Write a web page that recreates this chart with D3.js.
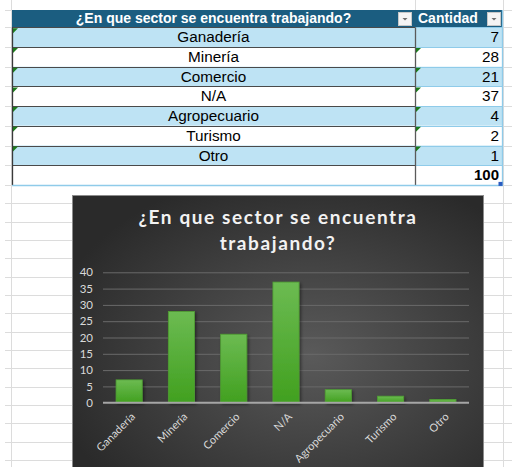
<!DOCTYPE html>
<html><head><meta charset="utf-8">
<script src="https://cdn.jsdelivr.net/npm/d3@7"></script>
<style>body{margin:0;background:#fff;overflow:hidden} svg{display:block}</style>
</head><body>
<svg id="c" width="512" height="467"></svg>
<script>
const categories = ["Ganadería", "Minería", "Comercio", "N/A", "Agropecuario", "Turismo", "Otro"];
const values = [7, 28, 21, 37, 4, 2, 1];
const total = 100;
const headerLabels = ["¿En que sector se encuentra trabajando?", "Cantidad"];
const chartTitle = ["¿En que sector se encuentra", "trabajando?"];
const yTicks = [0, 5, 10, 15, 20, 25, 30, 35, 40];
const errorFlagsCol2 = [false, true, true, true, true, true, true];

const svg = d3.select("#c");
const defs = svg.append("defs");

// ---------- spreadsheet background grid ----------
const gridC = "#dcdcdc";
const tbl = {x0: 12, x1: 415, x2: 502, top: 10, head: 17.3, rowH: 19.7};
const rowY = d3.scaleLinear().domain([0, 1]).range([tbl.top + tbl.head, tbl.top + tbl.head + tbl.rowH]);
const tableBottom = rowY(categories.length + 1);
const sheetRows = d3.range(0, 16).map(k => tableBottom + k * 18.33);
const topRows = [tbl.top].concat(d3.range(0, categories.length + 2).map(i => rowY(i)));
const g0 = svg.append("g");
g0.selectAll("line.sr").data(sheetRows).join("line")
  .attr("x1", 5).attr("x2", 512).attr("y1", d => Math.round(d) + 0.5).attr("y2", d => Math.round(d) + 0.5)
  .attr("stroke", gridC);
g0.selectAll("line.tr").data(topRows).join("line")
  .attr("x1", 5).attr("x2", 12).attr("y1", d => Math.round(d) + 0.5).attr("y2", d => Math.round(d) + 0.5)
  .attr("stroke", gridC);
g0.selectAll("line.tr2").data(topRows).join("line")
  .attr("x1", 503).attr("x2", 512).attr("y1", d => Math.round(d) + 0.5).attr("y2", d => Math.round(d) + 0.5)
  .attr("stroke", gridC);
g0.append("line").attr("x1", 11.5).attr("x2", 11.5).attr("y1", 0).attr("y2", 467).attr("stroke", gridC);
g0.append("line").attr("x1", 503.5).attr("x2", 503.5).attr("y1", 0).attr("y2", 467).attr("stroke", gridC);
g0.append("line").attr("x1", 415.5).attr("x2", 415.5).attr("y1", 0).attr("y2", 10).attr("stroke", gridC);

// ---------- table ----------
const tg = svg.append("g").attr("font-family", "'Liberation Sans', Arial, sans-serif");
tg.append("rect").attr("x", tbl.x0).attr("y", tbl.top).attr("width", tbl.x2 - tbl.x0).attr("height", tbl.head).attr("fill", "#1b5d80");
tg.append("text").attr("x", (tbl.x0 + tbl.x1) / 2).attr("y", tbl.top + 13).attr("text-anchor", "middle")
  .attr("fill", "#fff").attr("font-weight", "bold").attr("font-size", 14).text(headerLabels[0]);
tg.append("text").attr("x", 418).attr("y", tbl.top + 13)
  .attr("fill", "#fff").attr("font-weight", "bold").attr("font-size", 14).text(headerLabels[1]);
[398, 487].forEach(bx => {
  tg.append("rect").attr("x", bx + 0.5).attr("y", 12.5).attr("width", 13).attr("height", 13).attr("fill", "#f4f4f4").attr("stroke", "#c8c8c8");
  tg.append("path").attr("d", `M${bx + 4.5},18 L${bx + 9.5},18 L${bx + 7},20.5 Z`).attr("fill", "#6d6d6d");
});

const rows = tg.selectAll("g.row").data(categories).join("g").attr("class", "row");
rows.append("rect").attr("x", tbl.x0).attr("y", (d, i) => rowY(i)).attr("width", tbl.x2 - tbl.x0).attr("height", tbl.rowH)
  .attr("fill", (d, i) => i % 2 === 0 ? "#bee3f4" : "#ffffff");
rows.append("text").attr("x", (tbl.x0 + tbl.x1) / 2).attr("y", (d, i) => rowY(i) + 15).attr("text-anchor", "middle")
  .attr("font-size", 15.3).attr("fill", "#000").text(d => d);
rows.append("text").attr("x", 499).attr("y", (d, i) => rowY(i) + 15).attr("text-anchor", "end")
  .attr("font-size", 15.3).attr("fill", "#000").text((d, i) => values[i]);

// total row
tg.append("text").attr("x", 499).attr("y", rowY(categories.length) + 15).attr("text-anchor", "end")
  .attr("font-size", 15).attr("font-weight", "bold").attr("fill", "#000").text(total);

// borders
const rowBounds = d3.range(0, categories.length + 1).map(i => rowY(i));
tg.selectAll("line.rb").data(rowBounds).join("line")
  .attr("x1", tbl.x0).attr("x2", tbl.x1).attr("y1", d => Math.round(d) + 0.5).attr("y2", d => Math.round(d) + 0.5)
  .attr("stroke", "#4a4a4a").attr("stroke-width", 1.2);
tg.selectAll("line.rb2").data(rowBounds).join("line")
  .attr("x1", tbl.x1).attr("x2", tbl.x2).attr("y1", d => Math.round(d) + 0.5).attr("y2", d => Math.round(d) + 0.5)
  .attr("stroke", "#8fcbe9").attr("stroke-width", 1.2);
tg.append("line").attr("x1", tbl.x0).attr("x2", tbl.x2 + 1).attr("y1", Math.round(tableBottom) + 0.5).attr("y2", Math.round(tableBottom) + 0.5)
  .attr("stroke", "#8fcbe9").attr("stroke-width", 1.3);
tg.append("line").attr("x1", tbl.x0 + 0.5).attr("x2", tbl.x0 + 0.5).attr("y1", rowY(0)).attr("y2", tableBottom).attr("stroke", "#3a3a3a").attr("stroke-width", 1.3);
tg.append("line").attr("x1", tbl.x1 + 0.5).attr("x2", tbl.x1 + 0.5).attr("y1", rowY(0)).attr("y2", tableBottom).attr("stroke", "#5a5a5a").attr("stroke-width", 1.3);
tg.append("line").attr("x1", tbl.x2 + 0.5).attr("x2", tbl.x2 + 0.5).attr("y1", tbl.top).attr("y2", tableBottom).attr("stroke", "#8fcbe9").attr("stroke-width", 1.3);

// error indicators
const tri = (x, y) => `M${x},${y} L${x + 5},${y} L${x},${y + 5} Z`;
categories.forEach((c, i) => {
  tg.append("path").attr("d", tri(tbl.x0 + 1, rowY(i) + 1)).attr("fill", "#1d7a1d");
  if (errorFlagsCol2[i]) tg.append("path").attr("d", tri(tbl.x1 + 1, rowY(i) + 1)).attr("fill", "#1d7a1d");
});
tg.append("rect").attr("x", 498.5).attr("y", tableBottom - 3).attr("width", 4).attr("height", 4).attr("fill", "#2a5bc0");

// ---------- chart ----------
const C = {x: 72.5, y: 195.5, w: 411, h: 290};
const bg = defs.append("radialGradient").attr("id", "bgGrad").attr("cx", "58%").attr("cy", "55%").attr("r", "65%");
bg.append("stop").attr("offset", "0%").attr("stop-color", "#5a5a5a");
bg.append("stop").attr("offset", "100%").attr("stop-color", "#2a2a2a");
const barG = defs.append("linearGradient").attr("id", "barGrad").attr("x1", 0).attr("x2", 0).attr("y1", 0).attr("y2", 1);
barG.append("stop").attr("offset", "0%").attr("stop-color", "#6cbb52");
barG.append("stop").attr("offset", "100%").attr("stop-color", "#41a01f");
const sh = defs.append("filter").attr("id", "sh").attr("x", "-20%").attr("y", "-20%").attr("width", "150%").attr("height", "150%");
sh.append("feDropShadow").attr("dx", 1.5).attr("dy", 1.5).attr("stdDeviation", 1.5).attr("flood-color", "#000").attr("flood-opacity", 0.45);

const cg = svg.append("g");
cg.append("rect").attr("x", C.x).attr("y", C.y).attr("width", C.w).attr("height", C.h)
  .attr("fill", "url(#bgGrad)").attr("stroke", "#8c8c8c").attr("stroke-width", 1);

const ft = "Lato, 'Open Sans', sans-serif";
cg.selectAll("text.title").data(chartTitle).join("text").attr("class", "title")
  .attr("x", C.x + C.w / 2).attr("y", (d, i) => 224 + i * 26).attr("text-anchor", "middle")
  .attr("font-family", ft).attr("font-weight", "bold").attr("font-size", 19).attr("letter-spacing", 1.6)
  .attr("fill", "#f2f2f2").text(d => d);

const plot = {l: 103, r: 469, t: 272.3, b: 402.7};
const x = d3.scaleBand().domain(categories).range([plot.l, plot.r]).paddingInner(0.5).paddingOuter(0.25);
const y = d3.scaleLinear().domain([0, 40]).range([plot.b, plot.t]);

// gridlines
const grid = cg.append("g").attr("transform", `translate(${plot.l},0)`)
  .call(d3.axisLeft(y).tickValues(yTicks.slice(1)).tickSize(-(plot.r - plot.l)).tickFormat(""));
grid.select(".domain").remove();
grid.selectAll("line").attr("stroke", "#6a6a6a").attr("stroke-width", 1);

// y axis labels
const ya = cg.append("g").attr("transform", `translate(${plot.l},0)`)
  .call(d3.axisLeft(y).tickValues(yTicks).tickSize(0).tickPadding(10));
ya.select(".domain").remove();
ya.selectAll("text").attr("font-family", ft).attr("font-size", 11.5).attr("fill", "#d9d9d9");

// bars
cg.selectAll("rect.bar").data(categories).join("rect").attr("class", "bar")
  .attr("x", d => x(d)).attr("width", x.bandwidth())
  .attr("y", (d, i) => y(values[i])).attr("height", (d, i) => y(0) - y(values[i]))
  .attr("fill", "url(#barGrad)").attr("stroke", "#4f9e33").attr("stroke-width", 0.8)
  .attr("filter", "url(#sh)");

// x axis
const xa = cg.append("g").attr("transform", `translate(0,${plot.b})`)
  .call(d3.axisBottom(x).tickSize(0).tickPadding(0));
xa.select(".domain").attr("stroke", "#a6a6a6").attr("stroke-width", 2).attr("d", `M${plot.l},0H${plot.r}`);
xa.selectAll("text").attr("font-family", ft).attr("font-size", 11).attr("fill", "#d9d9d9")
  .attr("text-anchor", "end").attr("y", null).attr("dy", "0.35em")
  .attr("transform", "translate(4,12) rotate(-45)");
</script>
</body></html>
